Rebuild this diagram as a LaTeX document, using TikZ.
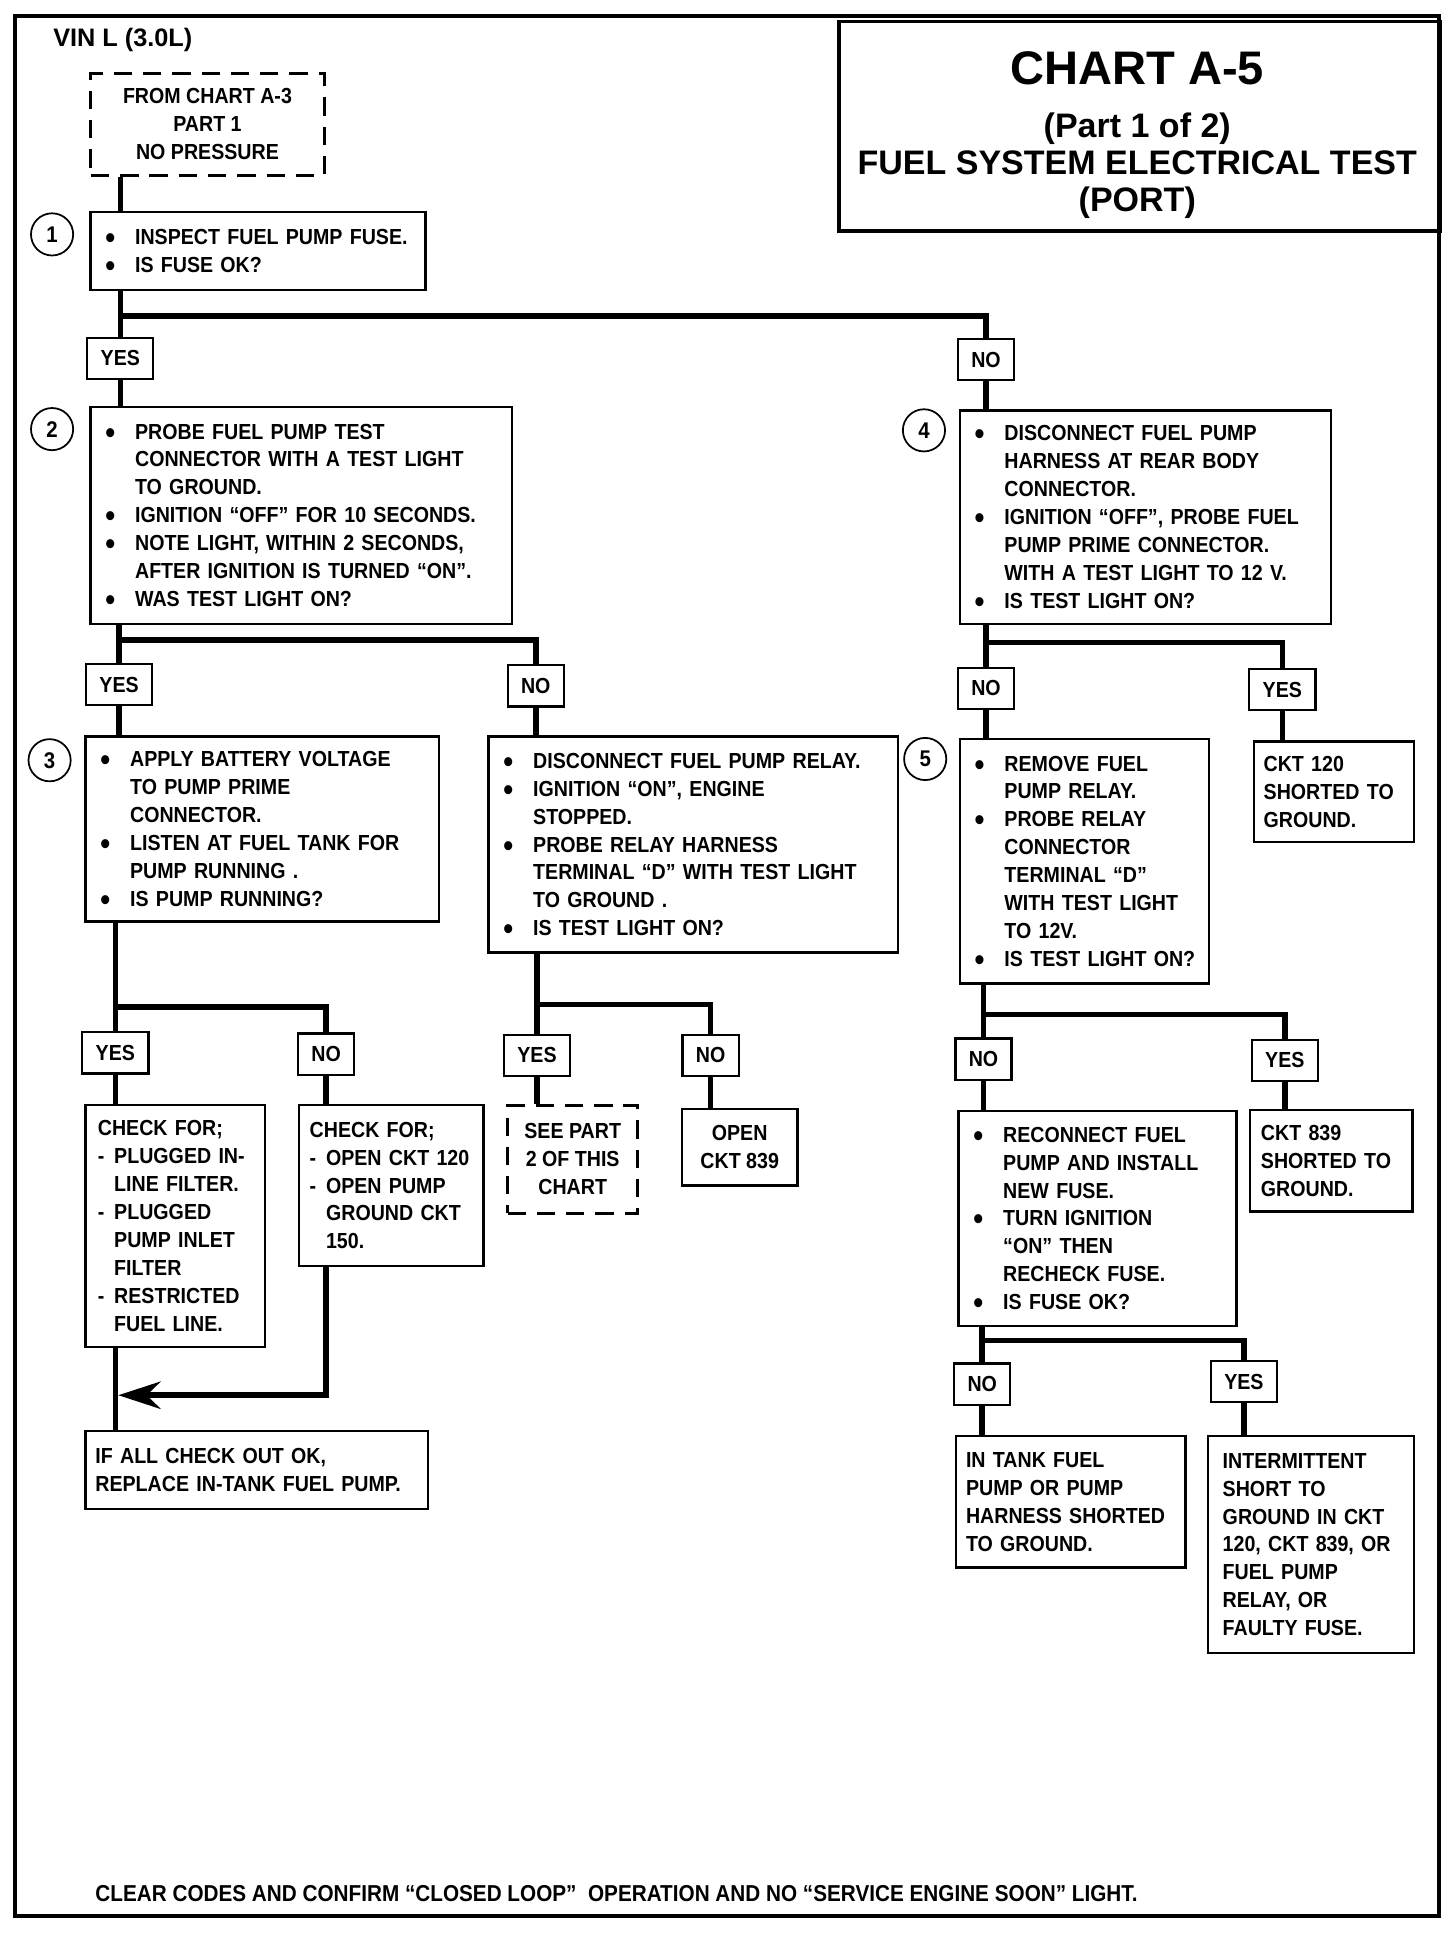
\documentclass[tikz,border=0pt]{standalone}
\usepackage{fontspec}
\setmainfont{Liberation Sans}[FakeStretch=0.9]
\newfontfamily\titlefont{Liberation Sans}
\usetikzlibrary{arrows.meta}

\newcommand\boxfont{\fontsize{12.5pt}{16pt}\selectfont\bfseries}
\newcommand\bdot{\smash{\fontsize{18pt}{16pt}\selectfont\raisebox{-2.3pt}{\textbullet}}}
\newcommand\bitem[1]{\makebox[0.6cm][l]{\bdot}\mbox{#1}}
\newcommand\bcont[1]{\hspace*{0.6cm}\mbox{#1}}
\newcommand\ditem[1]{\makebox[0.33cm][l]{-}\mbox{#1}}
\newcommand\dcont[1]{\hspace*{0.33cm}\mbox{#1}}

\tikzset{
  stepbox/.style 2 args={draw, line width=1.3pt, anchor=north west, align=left,
    inner xsep=0.3cm, inner ysep=0pt, text width=#1cm, minimum height=#2cm, font=\boxfont},
  endbox/.style 2 args={draw, line width=1.3pt, anchor=north west, align=center,
    minimum width=#1cm, minimum height=#2cm, font=\boxfont},
  dashbox/.style 2 args={endbox={#1}{#2}, line width=1.8pt, dash pattern=on 0.37cm off 0.22cm},
  ans/.style={draw, line width=1.3pt, minimum height=0.83cm, inner xsep=0.27cm, font=\boxfont},
  num/.style={draw, circle, line width=1pt, minimum size=0.85cm, inner sep=0pt, font=\boxfont\fontsize{13pt}{16pt}\selectfont},
  link/.style={line width=3.2pt},
}

\begin{document}
\begin{tikzpicture}[x=0.025cm, y=-0.025cm]

\useasboundingbox (0,0) rectangle (1174,1567.5);
\draw[line width=2.2pt] (12,13) rectangle (1160,1545);

\node[anchor=west, font=\titlefont\bfseries\fontsize{14.5pt}{16pt}\selectfont] (vin) at (38,32) {VIN L (3.0L)};

\node[draw, line width=2pt, anchor=north west, minimum width=12.125cm, minimum height=4.225cm] (title) at (675,16) {};
\node[align=center, font=\titlefont\bfseries\fontsize{19.5pt}{21.3pt}\selectfont] (ttl) at (917,109)
  {{\fontsize{27pt}{27pt}\selectfont CHART A-5}\\[0.33cm]
   (Part  1 of 2)\\ FUEL SYSTEM ELECTRICAL TEST\\ (PORT)};

\node[dashbox={4.7}{2.05}] (st) at (72,58) {FROM CHART A-3\\ PART 1\\ NO PRESSURE};

\foreach \n/\x/\y in {1/42/189, 2/42/346, 3/40/613, 4/745/347, 5/746/612} {
	\node[num] (c\n) at (\x,\y) {\n};
}

\node[stepbox={6.15}{1.575}] (b1) at (72,170)
  {\bitem{INSPECT FUEL PUMP FUSE.}\\ \bitem{IS FUSE OK?}};

\node[stepbox={7.9}{4.375}] (b2) at (72,327)
  {\bitem{PROBE FUEL PUMP TEST}\\ \bcont{CONNECTOR WITH A TEST LIGHT}\\ \bcont{TO GROUND.}\\
   \bitem{IGNITION “OFF” FOR 10 SECONDS.}\\ \bitem{NOTE LIGHT, WITHIN 2 SECONDS,}\\
   \bcont{AFTER IGNITION IS TURNED  “ON”.}\\ \bitem{WAS TEST LIGHT ON?}};

\node[stepbox={6.525}{3.725}] (b3) at (68,593)
  {\bitem{APPLY BATTERY VOLTAGE}\\ \bcont{TO PUMP PRIME}\\ \bcont{CONNECTOR.}\\
   \bitem{LISTEN AT FUEL TANK FOR}\\ \bcont{PUMP RUNNING .}\\ \bitem{IS PUMP RUNNING?}};

\node[stepbox={7.65}{4.35}] (rl) at (393,593)
  {\bitem{DISCONNECT FUEL PUMP RELAY.}\\ \bitem{IGNITION “ON”, ENGINE}\\ \bcont{STOPPED.}\\
   \bitem{PROBE RELAY HARNESS}\\ \bcont{TERMINAL “D” WITH TEST LIGHT}\\ \bcont{TO GROUND .}\\
   \bitem{IS TEST LIGHT ON?}};

\node[stepbox={3.125}{4.875}, inner xsep=0.25cm] (k1) at (68,890)
  {CHECK FOR;\\ \ditem{PLUGGED IN-}\\ \dcont{LINE FILTER.}\\ \ditem{PLUGGED}\\
   \dcont{PUMP INLET}\\ \dcont{FILTER}\\ \ditem{RESTRICTED}\\ \dcont{FUEL LINE.}};

\node[stepbox={3.285}{3.25}, inner xsep=0.22cm] (k2) at (240,890)
  {CHECK FOR;\\ \ditem{OPEN CKT 120}\\ \ditem{OPEN PUMP}\\ \dcont{GROUND CKT}\\ \dcont{150.}};

\node[dashbox={2.625}{2.175}] (sp) at (408,890) {SEE  PART\\ 2 OF THIS\\ CHART};
\node[endbox={2.325}{1.55}] (op) at (549,893) {OPEN\\ CKT 839};

\node[stepbox={6.5}{1.575}, inner xsep=0.2cm] (fin) at (68,1153)
  {IF ALL CHECK OUT OK,\\ REPLACE IN-TANK FUEL PUMP.};

\node[stepbox={6.875}{4.3}] (b4) at (773,330)
  {\bitem{DISCONNECT FUEL PUMP}\\ \bcont{HARNESS AT REAR BODY}\\ \bcont{CONNECTOR.}\\
   \bitem{IGNITION “OFF”, PROBE FUEL}\\ \bcont{PUMP PRIME CONNECTOR.}\\
   \bcont{WITH A TEST LIGHT TO 12 V.}\\ \bitem{IS TEST LIGHT ON?}};

\node[stepbox={4.425}{4.925}] (b5) at (773,595)
  {\bitem{REMOVE FUEL}\\ \bcont{PUMP RELAY.}\\ \bitem{PROBE RELAY}\\ \bcont{CONNECTOR}\\
   \bcont{TERMINAL “D”}\\ \bcont{WITH TEST LIGHT}\\ \bcont{TO 12V.}\\ \bitem{IS TEST LIGHT ON?}};

\node[stepbox={2.825}{2.025}, inner xsep=0.2cm] (c120) at (1010,597)
  {CKT 120\\ SHORTED TO\\ GROUND.};

\node[stepbox={5.0}{4.325}] (b6) at (772,895)
  {\bitem{RECONNECT FUEL}\\ \bcont{PUMP AND INSTALL}\\ \bcont{NEW FUSE.}\\ \bitem{TURN IGNITION}\\
   \bcont{“ON” THEN}\\ \bcont{RECHECK FUSE.}\\ \bitem{IS FUSE OK?}};

\node[stepbox={2.835}{2.05}, inner xsep=0.22cm] (c839) at (1007,894)
  {CKT 839\\ SHORTED TO\\ GROUND.};

\node[stepbox={4.225}{2.65}, inner xsep=0.2cm] (tank) at (770,1157)
  {IN TANK FUEL\\ PUMP OR PUMP\\ HARNESS SHORTED\\ TO GROUND.};

\node[stepbox={3.55}{4.375}] (inter) at (973,1157)
  {INTERMITTENT\\ SHORT TO\\ GROUND IN CKT\\ 120, CKT 839, OR\\ FUEL PUMP\\ RELAY, OR\\ FAULTY FUSE.};

\node[ans] (y1) at (97,289) {YES};
\node[ans] (n1) at (795,290) {NO};
\node[ans] (y2) at (96,552) {YES};
\node[ans] (n2) at (432,553) {NO};
\node[ans] (y3) at (93,849) {YES};
\node[ans] (n3) at (263,850) {NO};
\node[ans] (y4) at (433,851) {YES};
\node[ans] (n4) at (573,851) {NO};
\node[ans] (n5) at (795,555) {NO};
\node[ans] (y5) at (1034,556) {YES};
\node[ans] (n6) at (793,854) {NO};
\node[ans] (y6) at (1036,855) {YES};
\node[ans] (n7) at (792,1116) {NO};
\node[ans] (y7) at (1003,1114) {YES};

\coordinate (j1) at (97,255);
\coordinate (j2) at (96,516);
\coordinate (j3) at (93,812);
\coordinate (j4) at (433,810);
\coordinate (j5) at (795,518);
\coordinate (j6) at (793,818);
\coordinate (j7) at (792,1081);
\coordinate (m1) at (93,1125);

\draw[link] (st.south -| y1) -- (b1.north -| y1);
\draw[link] (b1.south -| y1) -- (y1.north);
\draw[link] (j1) -| (n1.north);
\draw[link] (y1.south) -- (b2.north -| y1);
\draw[link] (n1.south) -- (b4.north -| n1);

\draw[link] (b2.south -| y2) -- (y2.north);
\draw[link] (j2) -| (n2.north);
\draw[link] (y2.south) -- (b3.north -| y2);
\draw[link] (n2.south) -- (rl.north -| n2);

\draw[link] (b3.south -| y3) -- (y3.north);
\draw[link] (j3) -| (n3.north);
\draw[link] (rl.south -| y4) -- (y4.north);
\draw[link] (j4) -| (n4.north);
\draw[link] (y3.south) -- (k1.north -| y3);
\draw[link] (n3.south) -- (k2.north -| n3);
\draw[link] (y4.south) -- (sp.north -| y4);
\draw[link] (n4.south) -- (op.north -| n4);
\draw[link] (k1.south -| y3) -- (fin.north -| y3);
\draw[link, -{Stealth[length=0.85cm, width=0.55cm]}] (k2.south -| n3) |- ([xshift=0.06cm]m1);

\draw[link] (b4.south -| n5) -- (n5.north);
\draw[link] (j5) -| (y5.north);
\draw[link] (n5.south) -- (b5.north -| n5);
\draw[link] (y5.south) -- (c120.north -| y5);
\draw[link] (b5.south -| n6) -- (n6.north);
\draw[link] (j6) -| (y6.north);
\draw[link] (n6.south) -- (b6.north -| n6);
\draw[link] (y6.south) -- (c839.north -| y6);
\draw[link] (b6.south -| n7) -- (n7.north);
\draw[link] (j7) -| (y7.north);
\draw[link] (n7.south) -- (tank.north -| n7);
\draw[link] (y7.south) -- (inter.north -| y7);

\node[anchor=west, font=\boxfont\fontsize{13.2pt}{16pt}\selectfont] (foot) at (72,1527)
  {CLEAR CODES AND CONFIRM “CLOSED LOOP”\ \ OPERATION AND NO “SERVICE ENGINE SOON” LIGHT.};

\end{tikzpicture}
\end{document}
